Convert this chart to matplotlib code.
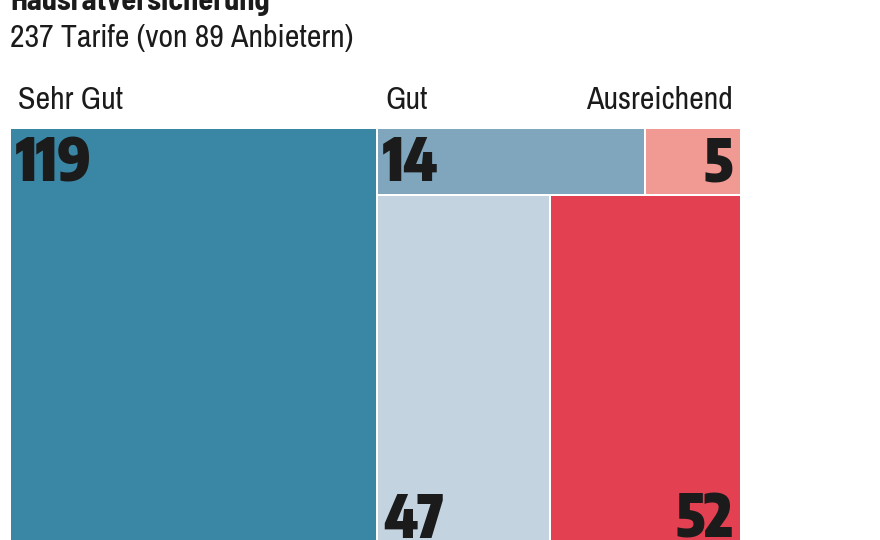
import matplotlib.pyplot as plt
from matplotlib.patches import Rectangle

# data
title = 'Hausratversicherung'
subtitle = '237 Tarife (von 89 Anbietern)'
headings = ['Sehr Gut', 'Gut', 'Ausreichend']
big_value = 119                 # left column
top_values = [14, 5]            # upper row of right block
bottom_values = [47, 52]        # lower row of right block
big_color = '#3a87a5'
top_colors = ['#7fa6bd', '#f09a93']
bottom_colors = ['#c4d3e0', '#e34152']

TEXT_FONT = ['Archivo Narrow', 'DejaVu Sans']
TITLE_FONT = ['Barlow Semi Condensed', 'DejaVu Sans']
NUM_FONT = ['Encode Sans Condensed', 'Barlow Semi Condensed', 'DejaVu Sans']
INK = '#1b1b1b'

W, H = 880, 540
fig = plt.figure(figsize=(W / 100, H / 100), dpi=100)
ax = fig.add_axes([0, 0, 1, 1])
ax.set_xlim(0, W)
ax.set_ylim(H, 0)
ax.axis('off')

# chart box in pixel units (bottom runs a little past the figure edge)
x0, y0, bw, bh = 10, 128, 731, 416
gap = 2

total = big_value + sum(top_values) + sum(bottom_values)
right = sum(top_values) + sum(bottom_values)

cells = []  # (x, y, w, h, value, color, halign, valign)
wbig = bw * big_value / total
cells.append((x0, y0, wbig, bh, big_value, big_color, 'left', 'top'))

rx = x0 + wbig
rw = bw - wbig
ytop_h = bh * sum(top_values) / right
cx = rx
for i, (v, c) in enumerate(zip(top_values, top_colors)):
    w = rw * v / sum(top_values)
    cells.append((cx, y0, w, ytop_h, v, c, 'left' if i == 0 else 'right', 'top'))
    cx += w
cx = rx
for i, (v, c) in enumerate(zip(bottom_values, bottom_colors)):
    w = rw * v / sum(bottom_values)
    cells.append((cx, y0 + ytop_h, w, bh - ytop_h, v, c,
                  'left' if i == 0 else 'right', 'bottom'))
    cx += w

for (x, y, w, h, v, c, ha, va) in cells:
    ax.add_patch(Rectangle((x + gap / 2, y + gap / 2), w - gap, h - gap,
                           facecolor=c, edgecolor='none'))
    tx = x + 6 if ha == 'left' else x + w - 8
    if va == 'top':
        ty = y + 53
    else:
        ty = y + h - 6
    ax.text(tx, ty, str(v), ha=ha, va='baseline',
            fontsize=42, fontweight=900, family=NUM_FONT, color=INK)

# headings above columns
ax.text(x0 + 8, 109, headings[0], ha='left', va='baseline',
        fontsize=23, family=TEXT_FONT, color=INK)
ax.text(rx + 8, 109, headings[1], ha='left', va='baseline',
        fontsize=23, family=TEXT_FONT, color=INK)
ax.text(x0 + bw - 8, 109, headings[2], ha='right', va='baseline',
        fontsize=23, family=TEXT_FONT, color=INK)

ax.text(x0, 10, title, ha='left', va='baseline',
        fontsize=22, fontweight='bold', family=TITLE_FONT, color=INK)
ax.text(x0, 47, subtitle, ha='left', va='baseline',
        fontsize=23, family=TEXT_FONT, color=INK)

fig.savefig('out.png', dpi=100)
